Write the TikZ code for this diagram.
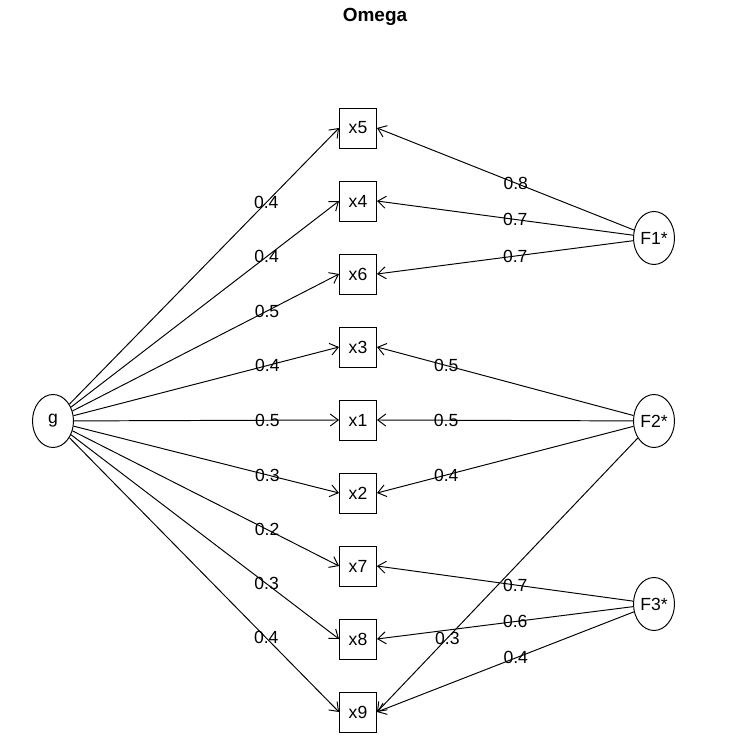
\documentclass[tikz,border=0pt]{standalone}
\usepackage{fontspec}
\setmainfont{Liberation Sans}
\usetikzlibrary{arrows.meta, shapes.geometric}

\tikzset{
	obs/.style={draw, rectangle, minimum width=0.74cm, minimum height=0.8cm, inner sep=0pt},
	lat/.style={draw, ellipse, minimum width=0.82cm, minimum height=1.06cm, inner sep=0pt},
	load/.style={-{Straight Barb[length=1.6mm,width=2.4mm]}},
	wt/.style={inner sep=0pt}
}

\begin{document}
\begin{tikzpicture}[line width=0.55pt, font=\fontsize{10}{12}\selectfont]
	\useasboundingbox (0,0) rectangle (15,15);
	\node[font=\fontsize{10.8}{13}\selectfont\bfseries] (title) at (7.5,14.66) {Omega};
	% items
	\foreach \name [count=\i] in {x5,x4,x6,x3,x1,x2,x7,x8,x9}
	{
		\node[obs] (\name) at (7.16,{12.44-1.46*(\i-1)}) {\name};
	}
	% factors
	\node[lat] (g) at (1.06,6.58) {g};
	\node[lat] (F1) at (13.08,10.24) {F1*};
	\node[lat] (F2) at (13.08,6.58) {F2*};
	\node[lat] (F3) at (13.08,2.92) {F3*};
	% general loadings
	\foreach \to/\w in {x5/0.4,x4/0.4,x6/0.5,x3/0.4,x1/0.5,x2/0.3,x7/0.2,x8/0.3,x9/0.4}
	{
		\draw[load] (g) -- node[wt,pos=0.73]{\w} (\to.west);
	}
	% group loadings
	\foreach \from/\to/\w/\p in {F1/x5/0.8/0.46,F1/x4/0.7/0.46,F1/x6/0.7/0.46,
		F2/x3/0.5/0.73,F2/x1/0.5/0.73,F2/x2/0.4/0.73,F2/x9/0.3/0.73,
		F3/x7/0.7/0.46,F3/x8/0.6/0.46,F3/x9/0.4/0.46}
	{
		\draw[load] (\from) -- node[wt,pos=\p]{\w} (\to.east);
	}
\end{tikzpicture}
\end{document}
